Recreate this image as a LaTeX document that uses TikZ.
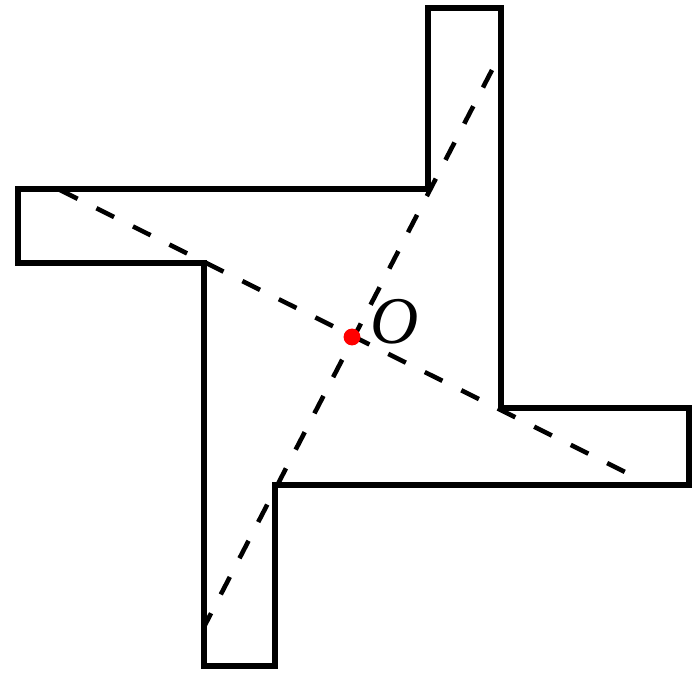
\documentclass[tikz,border=0pt]{standalone}
\usepackage{fontspec}
\setmainfont{Liberation Serif}
\begin{document}
\begin{tikzpicture}
    \useasboundingbox (0,0) rectangle (7,6.74);
    \draw[line width=1.55pt, line join=miter] (4.28,4.85) -- (4.28,6.66) -- (5.01,6.66) -- (5.01,2.66) -- (6.89,2.66) -- (6.89,1.89) -- (2.75,1.89) -- (2.75,0.08) -- (2.04,0.08) -- (2.04,4.11) -- (0.18,4.11) -- (0.18,4.85) -- cycle;
    \draw[line width=1.3pt, dash pattern=on 5.6pt off 6pt] (0.60,4.84) -- (6.25,2.02);
    \draw[line width=1.3pt, dash pattern=on 5.6pt off 6pt] (4.92,6.04) -- (2.05,0.49);
    \fill[red] (3.52,3.37) circle (2.4pt);
    \node at (3.95,3.52) {\fontsize{19}{21}\selectfont\itshape O};
\end{tikzpicture}
\end{document}
